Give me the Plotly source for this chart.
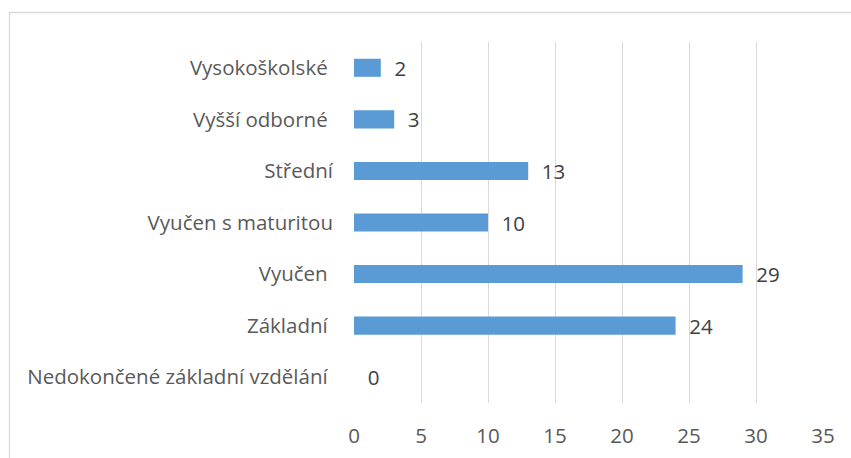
import plotly.graph_objects as go

categories = ["Nedokončené základní vzdělání ", "Základní ", "Vyučen ", "Vyučen s maturitou",
              "Střední", "Vyšší odborné ", "Vysokoškolské "]
values = [0, 24, 29, 10, 13, 3, 2]
x_ticks = [0, 5, 10, 15, 20, 25, 30, 35]

FAM = "Open Sans, Noto Sans, sans-serif"
font = dict(family=FAM, size=20.5, color="#595959")
vfont = dict(family=FAM, size=20.5, color="#404040")

L, R, T, B = 354, 28, 42, 55
W, H = 851, 458
pw, ph = W - L - R, H - T - B

fig = go.Figure(go.Bar(
    y=categories, x=values, orientation="h",
    marker=dict(color="#5B9BD5", line=dict(width=0)),
    width=0.35,
    text=["\u00a0\u00a0" + str(v) for v in values], textposition="outside",
    textfont=vfont, cliponaxis=False, constraintext="none",
    hoverinfo="skip",
))
fig.update_layout(
    width=W, height=H,
    margin=dict(l=L, r=R, t=T, b=B),
    paper_bgcolor="white", plot_bgcolor="white",
    font=font, showlegend=False,
    xaxis=dict(range=[0, 35], tickvals=x_ticks, showgrid=True, gridcolor="#D9D9D9",
               gridwidth=1.3, zeroline=False, showline=False, ticks="",
               ticklabelstandoff=18, tickfont=font, automargin=False),
    yaxis=dict(showgrid=False, zeroline=False, showline=False, ticks="",
               ticklabelstandoff=20, tickfont=font, automargin=False),
    shapes=[dict(type="rect", xref="paper", yref="paper",
                 x0=(9.5 - L) / pw, x1=1.2, y0=-0.3, y1=1 + (T - 12.5) / ph,
                 line=dict(color="#D9D9D9", width=1.3), fillcolor="rgba(0,0,0,0)",
                 layer="below")],
)
fig.write_html("out.html", config={"displayModeBar": False})

# remove the default browser page margin so the figure sits at (0, 0)
with open("out.html", encoding="utf-8") as f:
    html = f.read()
html = html.replace("<body>", '<body style="margin:0;overflow:hidden">', 1)
with open("out.html", "w", encoding="utf-8") as f:
    f.write(html)
